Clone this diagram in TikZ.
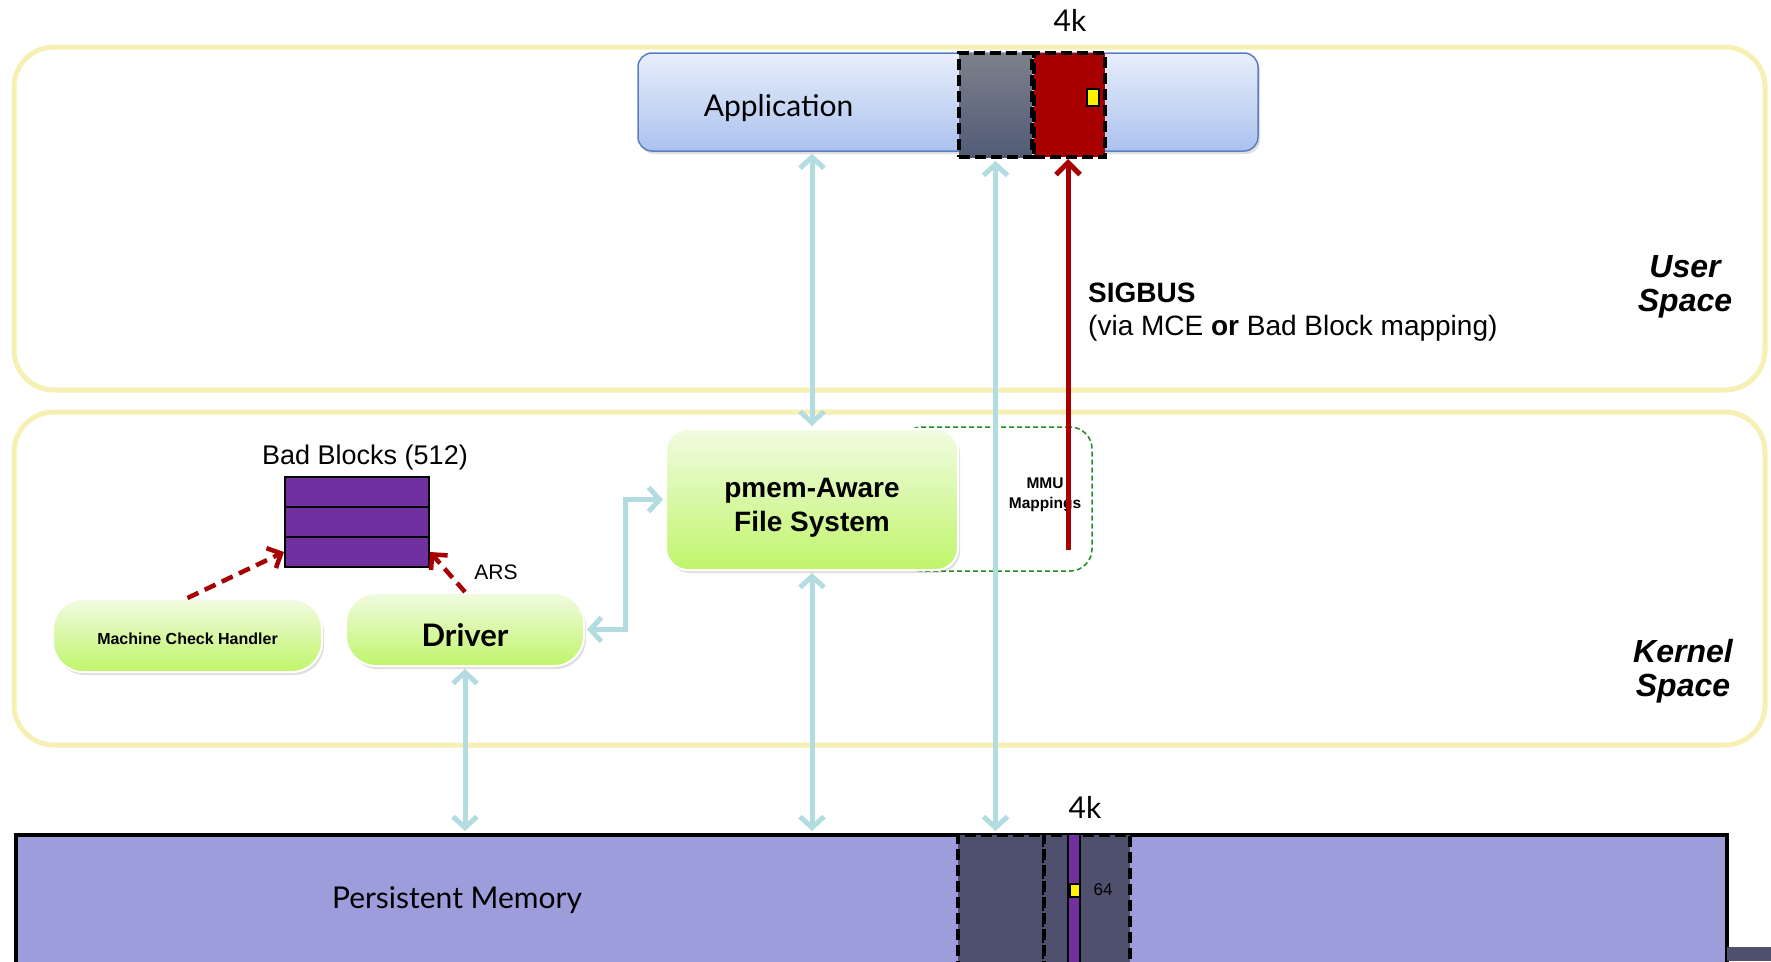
\documentclass[tikz,border=0pt]{standalone}
\usepackage{fontspec}
\setmainfont{Liberation Sans}
\newfontfamily\gillfont{Lato}
\usetikzlibrary{positioning,calc,shadows,arrows.meta}

\definecolor{panelyellow}{HTML}{F6F0B4}
\definecolor{linkcyan}{HTML}{B2DCE0}
\definecolor{sigred}{HTML}{A80000}
\definecolor{blockpurple}{HTML}{7030A0}
\definecolor{pmlav}{HTML}{9E9DDC}
\definecolor{pmdark}{HTML}{4F4F6E}
\definecolor{greentop}{HTML}{F1FBE2}
\definecolor{greenbot}{HTML}{C0F56A}
\definecolor{apptop}{HTML}{E8EEFB}
\definecolor{appbot}{HTML}{ABC2EE}
\definecolor{appedge}{HTML}{5A7EC2}
\definecolor{graytop}{HTML}{7D818C}
\definecolor{graybot}{HTML}{525B77}
\definecolor{mmugreen}{HTML}{1E8C1E}

\tikzset{panel/.style={draw=panelyellow,line width=5pt,fill=white,rounded corners=40pt,minimum width=1751pt,drop shadow={opacity=0.12,shadow xshift=0pt,shadow yshift=-2pt}}}
\tikzset{greenbox/.style={draw=white,line width=2pt,top color=greentop,bottom color=greenbot,drop shadow={opacity=0.25,shadow xshift=2pt,shadow yshift=-3pt}}}
\tikzset{appbox/.style={draw=appedge,line width=1.5pt,rounded corners=14pt,top color=apptop,bottom color=appbot,drop shadow={opacity=0.25,shadow xshift=2pt,shadow yshift=-3pt}}}
\tikzset{pageblk/.style={draw=black,line width=4pt,dash pattern=on 11pt off 5pt,inner sep=0pt}}
\tikzset{errdot/.style={draw=black,line width=1.2pt,fill=yellow,inner sep=0pt}}
\tikzset{badrow/.style={draw=black,line width=2pt,fill=blockpurple,minimum width=144pt,minimum height=30pt,inner sep=0pt}}
\tikzset{mmubox/.style={draw=mmugreen,line width=1.5pt,dash pattern=on 5pt off 3pt,rounded corners=22pt}}
\tikzset{link/.style={<->,>={Straight Barb[length=11pt,width=24pt]},draw=linkcyan,line width=5pt,shorten <=2pt,shorten >=2pt}}
\tikzset{sigline/.style={->,>={Straight Barb[length=12pt,width=24pt]},draw=sigred,line width=5pt}}
\tikzset{rdash/.style={->,>={Straight Barb[length=11pt,width=22pt]},draw=sigred,line width=4.5pt,dash pattern=on 12pt off 7pt}}
\tikzset{gilltxt/.style={font=\gillfont\fontsize{30}{34}\selectfont}}
\tikzset{spacetxt/.style={font=\fontsize{32}{34}\selectfont\bfseries\itshape,align=center}}

\begin{document}
\begin{tikzpicture}[x=1pt,y=-1pt]
  \useasboundingbox (0,0) rectangle (1771,961);
  % user and kernel space
  \node[panel,minimum height=343pt] (user) at (889.5,218.5) {};
  \node[panel,minimum height=333pt] (kernel) at (889.5,578.5) {};
  \node[spacetxt] (usertxt) at (1685,287) {User\\Space};
  \node[spacetxt] (kerneltxt) at (1683,671) {Kernel\\Space};

  % application with its pages
  \node[appbox,minimum width=620pt,minimum height=98pt] (app) at (948,102) {};
  \node[gilltxt,anchor=west] (apptxt) at ([xshift=63pt,yshift=-6pt]app.west) {Application};
  \node[pageblk,top color=graytop,bottom color=graybot,minimum width=73pt,minimum height=104pt] (gblk) at (995.5,105) {};
  \node[pageblk,fill=sigred,minimum width=71pt,minimum height=104pt] (rblk) at (1069.5,105) {};
  \node[errdot,minimum width=12pt,minimum height=17pt] (rdot) at (1093,97.5) {};
  \node[gilltxt] (topk) at (1070,20) {4k};

  % kernel parts
  \node[mmubox,minimum width=192pt,minimum height=144pt] (mmu) at (996,499) {};
  \node[font=\fontsize{15.5}{19.5}\selectfont\bfseries,align=center] (mmutxt) at (1045,495) {MMU\\Mappings};
  \node[greenbox,rounded corners=22pt,minimum width=292pt,minimum height=141pt] (fs) at (812,499.5) {};
  \node[font=\fontsize{28}{34}\selectfont\bfseries,align=center] (fstxt) at ([yshift=-8pt]fs.center) {pmem-Aware\\File System};
  \node[greenbox,rounded corners=30pt,minimum width=269pt,minimum height=73pt] (mch) at (187.5,635.5) {};
  \node[font=\fontsize{16}{18}\selectfont\bfseries] (mchtxt) at ([yshift=-3pt]mch.center) {Machine Check Handler};
  \node[greenbox,rounded corners=30pt,minimum width=238pt,minimum height=73pt] (drv) at (465,629.5) {};
  \node[font=\gillfont\fontsize{31}{34}\selectfont\bfseries] (drvtxt) at ([yshift=-6pt]drv.center) {Driver};

  % bad block list
  \foreach \i in {0,1,2}
    \node[badrow] (bb\i) at (357,492+30*\i) {};
  \node[font=\fontsize{27}{30}\selectfont] (bbtxt) at (365,458) {Bad Blocks (512)};
  \node[font=\fontsize{21}{24}\selectfont] (ars) at (496,572) {ARS};

  % persistent memory
  \node[draw=black,line width=4pt,fill=pmlav,minimum width=1711pt,minimum height=150pt,anchor=north west] (pm) at (14,833) {};
  \node[pageblk,fill=pmdark,minimum width=86pt,minimum height=150pt,anchor=north] (pmblkA) at (1001,833) {};
  \node[pageblk,fill=pmdark,minimum width=86pt,minimum height=150pt,anchor=north] (pmblkB) at (1087,833) {};
  \node[draw=black,line width=1.5pt,fill=blockpurple,minimum width=12pt,minimum height=150pt,inner sep=0pt,anchor=north] (pmline) at (1074,833) {};
  \node[errdot,minimum width=10pt,minimum height=13pt] (pmdot) at (1075,890.5) {};
  \node[font=\fontsize{17}{20}\selectfont] (sixtyfour) at (1103,890) {64};
  \node[gilltxt] (lowk) at (1085,807) {4k};
  \node[gilltxt] (pmtxt) at (457,900) {Persistent Memory};
  \fill[pmdark] (1727,947) rectangle (1771,961);

  % links
  \draw[link] (app.south -| fs.north) -- (fs.north);
  \draw[link] (gblk.south) -- (gblk.south |- pm.north);
  \draw[link] (fs.south) -- (fs.south |- pm.north);
  \draw[link] (drv.south) -- (drv.south |- pm.north);
  \coordinate (elbow) at ($(drv.east)!0.5!(fs.west)$);
  \draw[link] (drv.east) -| (elbow) |- (fs.west);

  % signal path
  \coordinate (sigstart) at (1068,550);
  \draw[sigline] (sigstart) -- (sigstart |- rblk.south);
  \node[inner sep=0pt,anchor=base west,font=\fontsize{28}{33}\selectfont\bfseries] (sigbus) at (1088,302) {SIGBUS};
  \node[inner sep=0pt,anchor=base west,font=\fontsize{28}{33}\selectfont] (sigvia) at (1088,335) {(via MCE \textbf{or} Bad Block mapping)};

  % bad block updates
  \draw[rdash] (mch.north) -- (bb2.west);
  \draw[rdash] (drv.north) -- (bb2.east);
\end{tikzpicture}
\end{document}
